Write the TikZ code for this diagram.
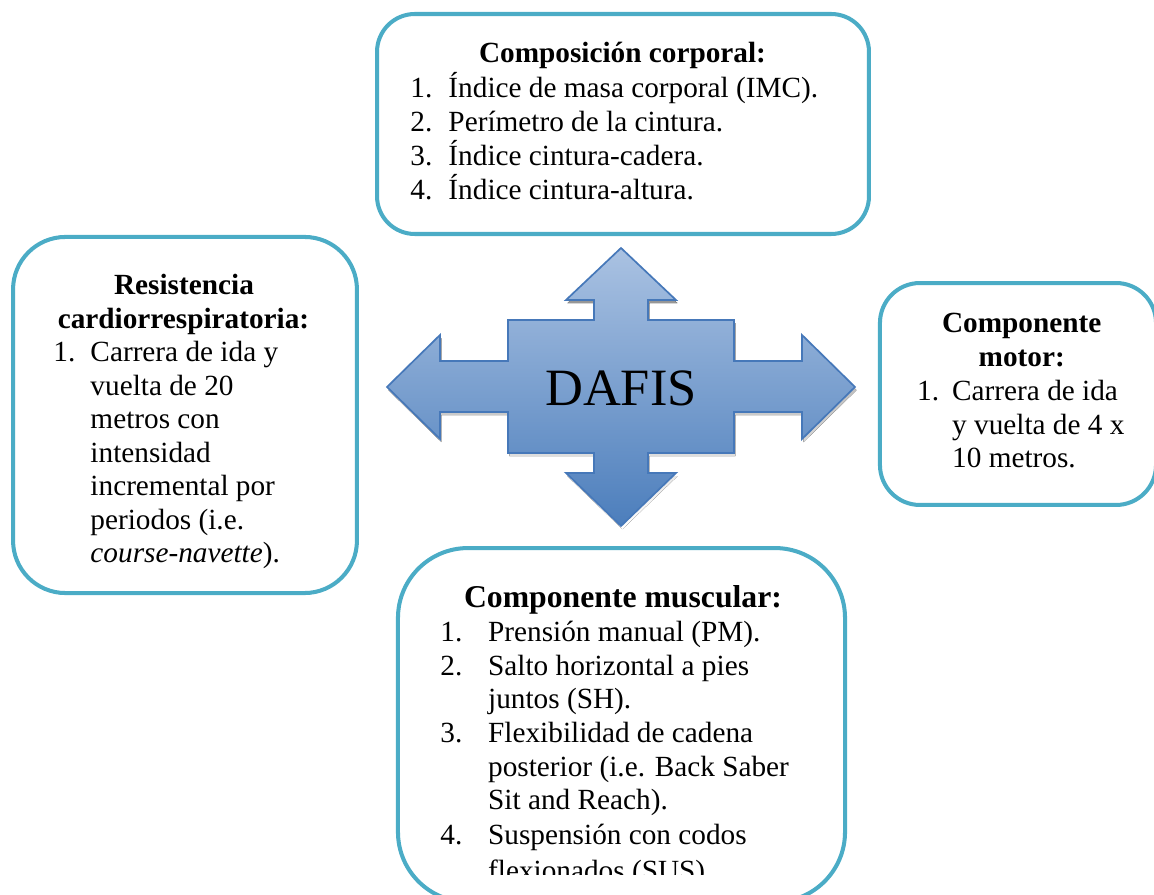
\documentclass[tikz,border=0pt]{standalone}
\usepackage{fontspec}
\setmainfont{Liberation Serif}
\definecolor{boxline}{RGB}{75,172,198}
\definecolor{arrtop}{RGB}{170,194,226}
\definecolor{arrbot}{RGB}{76,126,188}
\definecolor{arredge}{RGB}{70,120,185}
\definecolor{shade}{RGB}{165,165,165}
\tikzset{
  panel/.style={draw=boxline, line width=1.65pt, fill=white, rectangle, inner sep=0pt},
  head/.style={anchor=base, inner sep=0pt, font=\bfseries\fontsize{12}{14}\selectfont},
  bighead/.style={anchor=base, inner sep=0pt, font=\bfseries\fontsize{13}{15}\selectfont},
  line/.style={anchor=base west, inner sep=0pt, font=\fontsize{12}{14}\selectfont},
}
\begin{document}
\begin{tikzpicture}[x=0.41pt, y=-0.41pt]
\useasboundingbox (0,0) rectangle (1154,895);

% outline of the four-way arrow
\def\crossarrow{(621,248) -- (676,300) -- (648,300) -- (648,320) -- (734,320) -- (734,361)
  -- (802,361) -- (802,335) -- (855,387) -- (802,439) -- (802,412) -- (734,412)
  -- (734,453) -- (648,453) -- (648,473) -- (676,473) -- (621,526) -- (566,473)
  -- (594,473) -- (594,453) -- (508,453) -- (508,412) -- (440,412) -- (440,439)
  -- (387,387) -- (440,335) -- (440,361) -- (508,361) -- (508,320) -- (594,320)
  -- (594,300) -- (566,300) -- cycle}

% drop shadow, then the shaded arrow
\fill[shade, xshift=0.6pt, yshift=-1.3pt] \crossarrow;
\shade[top color=arrtop, bottom color=arrbot, draw=arredge, line width=0.7pt,
  line join=miter] \crossarrow;
\node[anchor=base, inner sep=0pt, font=\fontsize{21.5}{24}\selectfont] (hub) at (621,405.5) {DAFIS};

% body composition
\node[panel, minimum width=201.7pt, minimum height=90.2pt, rounded corners=15.5pt] (comp) at (623,124) {};
\node[head] (compT) at (622.5,63) {Composición corporal:};
\node[line] (c1n) at (410,98) {1.};
\node[line] (c1) at (448,98) {Índice de masa corporal (IMC).};
\node[line] (c2n) at (410,132) {2.};
\node[line] (c2) at (448,132) {Perímetro de la cintura.};
\node[line] (c3n) at (410,166) {3.};
\node[line] (c3) at (448,166) {Índice cintura-cadera.};
\node[line] (c4n) at (410,199.5) {4.};
\node[line] (c4) at (448,199.5) {Índice cintura-altura.};

% cardiorespiratory endurance
\node[panel, minimum width=141pt, minimum height=146pt, rounded corners=21.5pt] (resi) at (185,415) {};
\node[head] (resiT1) at (184,295) {Resistencia};
\node[head] (resiT2) at (183.5,329) {cardiorrespiratoria:};
\node[line] (r1n) at (53,362) {1.};
\node[line] (r1a) at (90,362) {Carrera de ida y};
\node[line] (r1b) at (90,395.5) {vuelta de 20};
\node[line] (r1c) at (90,429) {metros con};
\node[line] (r1d) at (90,462.5) {intensidad};
\node[line] (r1e) at (90,496) {incremental por};
\node[line] (r1f) at (90,529.5) {periodos (i.e.};
\node[line] (r1g) at (90,563) {\textit{course-navette}).};

% motor component
\node[panel, minimum width=113.2pt, minimum height=91pt, rounded corners=16.4pt] (moto) at (1018,394) {};
\node[head] (motoT1) at (1021.7,333) {Componente};
\node[head] (motoT2) at (1021.7,367) {motor:};
\node[line] (m1n) at (916.7,400.7) {1.};
\node[line] (m1a) at (951.7,400.7) {Carrera de ida};
\node[line] (m1b) at (951.7,434.5) {y vuelta de 4 x};
\node[line] (m1c) at (951.7,468) {10 metros.};

% muscular component (its last line runs past the text frame)
\node[panel, minimum width=183.3pt, minimum height=145.1pt, rounded corners=28.7pt] (musc) at (621.5,725) {};
\node[bighead] (muscT) at (623,608) {Componente muscular:};
\begin{scope}
\clip (400,550) rectangle (843,875);
\node[line] (u1n) at (440,641.5) {1.};
\node[line] (u1) at (487.7,641.5) {Prensión manual (PM).};
\node[line] (u2n) at (440,675.5) {2.};
\node[line] (u2a) at (487.7,675.5) {Salto horizontal a pies};
\node[line] (u2b) at (487.7,709) {juntos (SH).};
\node[line] (u3n) at (440,742.5) {3.};
\node[line] (u3a) at (487.7,742.5) {Flexibilidad de cadena};
\node[line] (u3b) at (487.7,776.5) {posterior (i.e. Back Saber};
\node[line] (u3c) at (487.7,810) {Sit and Reach).};
\node[line] (u4n) at (440,844) {4.};
\node[line] (u4a) at (487.7,844) {Suspensión con codos};
\node[line] (u4b) at (487.7,881) {flexionados (SUS).};
\end{scope}
\end{tikzpicture}
\end{document}
